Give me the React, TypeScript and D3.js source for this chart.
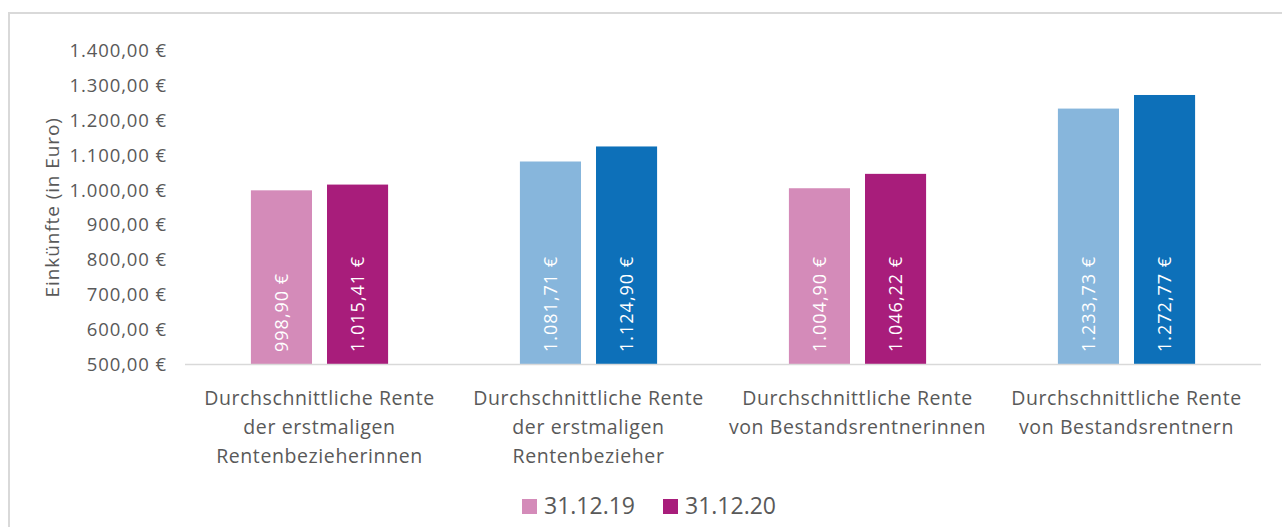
import React, { useEffect, useRef } from 'react';
import * as d3 from 'd3';

// categories (multi-line labels as shown under the axis)
const categories = [
  ['Durchschnittliche Rente', 'der erstmaligen', 'Rentenbezieherinnen'],
  ['Durchschnittliche Rente', 'der erstmaligen', 'Rentenbezieher'],
  ['Durchschnittliche Rente', 'von Bestandsrentnerinnen'],
  ['Durchschnittliche Rente', 'von Bestandsrentnern'],
];
const seriesNames = ['31.12.19', '31.12.20'];
const values2019 = [998.9, 1081.71, 1004.9, 1233.73];
const values2020 = [1015.41, 1124.9, 1046.22, 1272.77];
const yTicks = [500, 600, 700, 800, 900, 1000, 1100, 1200, 1300, 1400];

// pink for the women, blue for the men
const palette = [
  ['#d48bb9', '#a81d7b'],
  ['#87b6dc', '#0d70b9'],
  ['#d48bb9', '#a81d7b'],
  ['#87b6dc', '#0d70b9'],
];

const App = () => {
  const svgRef = useRef(null);

  useEffect(() => {
    const svg = d3.select(svgRef.current);
    svg.selectAll('*').remove();

    const width = 1282;
    const height = 527;
    const margin = { top: 50.7, left: 185, right: 21, baseline: 364 };
    const textColor = '#595959';
    const font = "'Open Sans', sans-serif";

    const de = d3.formatLocale({
      decimal: ',',
      thousands: '.',
      grouping: [3],
      currency: ['', ' €'],
    });
    const euro = de.format('$,.2f');

    svg.append('rect')
      .attr('width', width)
      .attr('height', height)
      .attr('fill', '#fff');

    // chart frame (only top and left edges are visible)
    svg.append('rect')
      .attr('x', 9)
      .attr('y', 13)
      .attr('width', width + 20)
      .attr('height', height + 20)
      .attr('fill', 'none')
      .attr('stroke', '#d9d9d9')
      .attr('stroke-width', 2);

    const x0 = d3.scaleBand()
      .domain(categories.map((_, i) => String(i)))
      .range([margin.left, width - margin.right])
      .paddingInner(0.49)
      .paddingOuter(0.245);

    const x1 = d3.scaleBand()
      .domain(seriesNames)
      .range([0, x0.bandwidth()])
      .paddingInner(15 / 76);

    const y = d3.scaleLinear()
      .domain([500, 1400])
      .range([margin.baseline, margin.top]);

    // y tick labels
    svg.append('g')
      .selectAll('text')
      .data(yTicks)
      .enter()
      .append('text')
      .attr('x', 167)
      .attr('y', d => y(d))
      .attr('dy', '0.36em')
      .attr('text-anchor', 'end')
      .attr('fill', textColor)
      .attr('font-family', font)
      .attr('font-size', 18.5)
      .attr('letter-spacing', 0.9)
      .text(d => euro(d));

    // y axis title
    svg.append('text')
      .attr('transform', `translate(52,${(y(500) + y(1400)) / 2}) rotate(-90)`)
      .attr('dy', '0.36em')
      .attr('text-anchor', 'middle')
      .attr('fill', textColor)
      .attr('font-family', font)
      .attr('font-size', 19)
      .attr('letter-spacing', 0.9)
      .text('Einkünfte (in Euro)');

    // bars
    const rows = categories.map((c, i) => ({
      key: String(i),
      items: [
        { series: seriesNames[0], value: values2019[i], color: palette[i][0] },
        { series: seriesNames[1], value: values2020[i], color: palette[i][1] },
      ],
    }));

    const groups = svg.append('g')
      .selectAll('g')
      .data(rows)
      .enter()
      .append('g')
      .attr('transform', d => `translate(${x0(d.key)},0)`);

    groups.selectAll('rect')
      .data(d => d.items)
      .enter()
      .append('rect')
      .attr('x', d => x1(d.series))
      .attr('y', d => y(d.value))
      .attr('width', x1.bandwidth())
      .attr('height', d => y(500) - y(d.value))
      .attr('fill', d => d.color);

    groups.selectAll('text')
      .data(d => d.items)
      .enter()
      .append('text')
      .attr('transform', d => `translate(${x1(d.series) + x1.bandwidth() / 2},${y(500) - 12}) rotate(-90)`)
      .attr('dy', '0.36em')
      .attr('text-anchor', 'start')
      .attr('fill', '#fff')
      .attr('font-family', font)
      .attr('font-size', 18)
      .attr('letter-spacing', 1)
      .text(d => euro(d.value));

    // baseline
    svg.append('line')
      .attr('x1', margin.left)
      .attr('x2', width - margin.right)
      .attr('y1', y(500) + 0.5)
      .attr('y2', y(500) + 0.5)
      .attr('stroke', '#d9d9d9')
      .attr('stroke-width', 1.5);

    // category labels
    const labels = svg.append('g')
      .selectAll('text')
      .data(categories)
      .enter()
      .append('text')
      .attr('x', (_, i) => x0(String(i)) + x0.bandwidth() / 2)
      .attr('text-anchor', 'middle')
      .attr('fill', textColor)
      .attr('font-family', font)
      .attr('font-size', 19.5)
      .attr('letter-spacing', 0.6);

    labels.selectAll('tspan')
      .data((d, i) => d.map(line => ({ line, cx: x0(String(i)) + x0.bandwidth() / 2 })))
      .enter()
      .append('tspan')
      .attr('x', d => d.cx)
      .attr('y', (_, j) => 405 + j * 29)
      .text(d => d.line);

    // legend
    const legend = svg.append('g')
      .selectAll('g')
      .data(seriesNames)
      .enter()
      .append('g')
      .attr('transform', (_, i) => `translate(${522 + i * 141},499)`);

    legend.append('rect')
      .attr('width', 15)
      .attr('height', 15)
      .attr('fill', (_, i) => palette[0][i]);

    legend.append('text')
      .attr('x', 22)
      .attr('y', 15)
      .attr('fill', textColor)
      .attr('font-family', font)
      .attr('font-size', 23)
      .text(d => d);
  }, []);

  return (
    <svg
      ref={svgRef}
      width={1282}
      height={527}
      style={{ position: 'absolute', left: 0, top: 0, display: 'block' }}
    ></svg>
  );
};

export default App;
